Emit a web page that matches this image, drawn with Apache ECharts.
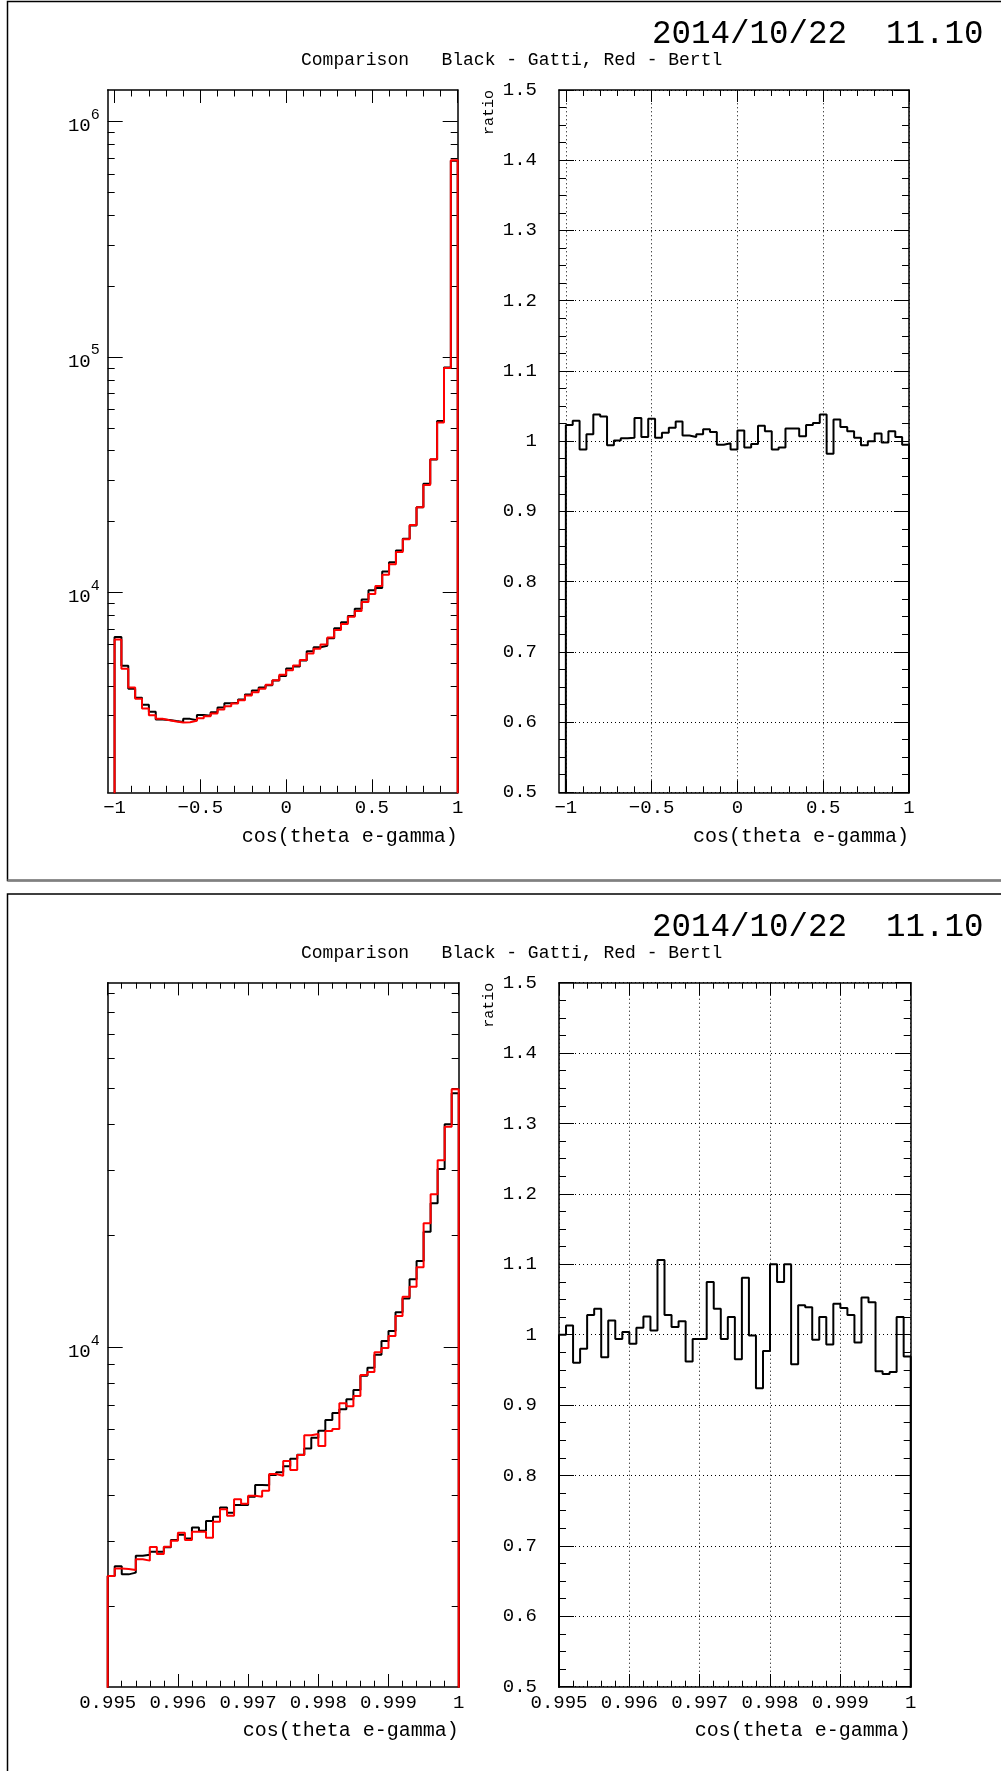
<!DOCTYPE html>
<html><head><meta charset="utf-8">
<script src="https://cdn.jsdelivr.net/npm/echarts@6/dist/echarts.min.js"></script>
<style>html,body{margin:0;padding:0;background:#fff}#c{width:1001px;height:1771px}</style>
</head><body><div id="c"></div>
<script>
// ---------------- data ----------------
const dateText = '2014/10/22  11.10';
const titleText = 'Comparison   Black - Gatti, Red - Bertl';
const xTitle = 'cos(theta e-gamma)';
const ratioTitle = 'ratio';

// full-range histograms (bin edges, 51 bins, first bin empty)
const topBinEdges = [-1.04,-1.00,-0.96,-0.92,-0.88,-0.84,-0.80,-0.76,-0.72,-0.68,-0.64,-0.60,-0.56,-0.52,-0.48,-0.44,-0.40,-0.36,-0.32,-0.28,-0.24,-0.20,-0.16,-0.12,-0.08,-0.04,0.00,0.04,0.08,0.12,0.16,0.20,0.24,0.28,0.32,0.36,0.40,0.44,0.48,0.52,0.56,0.60,0.64,0.68,0.72,0.76,0.80,0.84,0.88,0.92,0.96,1.00];
const topGatti = [0,6453,4869,3894,3562,3330,3111,2883,2865,2836,2811,2899,2860,3011,2991,3092,3237,3374,3396,3502,3680,3829,3941,4026,4222,4407,4740,4845,5131,5621,5837,5934,6375,7036,7464,7931,8516,9329,10209,10444,12254,13415,15049,16886,19222,22992,28932,36726,53438,90339,683167];
const topBertl = [0,6308,4732,3941,3527,3208,3006,2900,2862,2825,2797,2806,2843,2918,2976,3055,3177,3282,3369,3481,3644,3765,3890,4046,4235,4461,4670,4889,5152,5500,5756,6006,6433,6912,7332,7876,8325,9093,9835,10636,11886,13152,14841,16802,19338,22992,28617,36800,52700,89800,686600];
const topRatio = [0,1.023,1.029,0.988,1.010,1.038,1.035,0.994,1.001,1.004,1.005,1.033,1.006,1.032,1.005,1.012,1.019,1.028,1.008,1.006,1.010,1.017,1.013,0.995,0.997,0.988,1.015,0.991,0.996,1.022,1.014,0.988,0.991,1.018,1.018,1.007,1.023,1.026,1.038,0.982,1.031,1.020,1.014,1.005,0.994,1.000,1.011,0.998,1.014,1.006,0.995];

// zoomed histograms (50 bins)
const botBinEdges = [0.9950,0.9951,0.9952,0.9953,0.9954,0.9955,0.9956,0.9957,0.9958,0.9959,0.9960,0.9961,0.9962,0.9963,0.9964,0.9965,0.9966,0.9967,0.9968,0.9969,0.9970,0.9971,0.9972,0.9973,0.9974,0.9975,0.9976,0.9977,0.9978,0.9979,0.9980,0.9981,0.9982,0.9983,0.9984,0.9985,0.9986,0.9987,0.9988,0.9989,0.9990,0.9991,0.9992,0.9993,0.9994,0.9995,0.9996,0.9997,0.9998,0.9999,1.0000];
const botGatti = [2419,2569,2444,2470,2744,2759,2812,2812,2890,3024,3124,3054,3271,3204,3402,3495,3699,3583,3759,3759,3958,4254,4246,4528,4603,4778,5010,5135,5341,5708,5962,6368,6651,6804,7241,7672,8385,8813,9553,10400,11063,12427,13540,15250,17087,20490,24440,30240,39910,48370];
const botBertl = [2419,2536,2526,2511,2683,2661,2896,2773,2902,3012,3165,3024,3184,3184,3069,3388,3659,3518,3893,3790,3982,3957,4108,4555,4508,4937,4670,5124,5792,5840,5420,5950,6025,7063,6933,7391,8423,8579,9692,9960,10727,12144,13692,14570,16432,21590,25850,31920,39320,49590];
const botRatio = [1.000,1.013,0.960,0.980,1.028,1.037,0.968,1.020,0.994,1.004,0.987,1.010,1.026,1.006,1.106,1.028,1.011,1.019,0.962,0.994,0.994,1.075,1.037,0.994,1.025,0.965,1.081,0.999,0.924,0.977,1.100,1.075,1.100,0.958,1.042,1.039,0.993,1.025,0.986,1.044,1.038,1.028,0.989,1.053,1.046,0.948,0.944,0.947,1.025,0.969];

// axis ranges and ticks
const topXRange = [-1.04, 1.0];
const botXRange = [0.995, 1.0];
const ratioRange = [0.5, 1.5];
const topLogRange = [1413, 1364000];
const botLogRange = [1217, 96100];
const topXMajor = [-1, -0.5, 0, 0.5, 1];
const topXMinor = [-0.9,-0.8,-0.7,-0.6,-0.4,-0.3,-0.2,-0.1,0.1,0.2,0.3,0.4,0.6,0.7,0.8,0.9];
const logMajorTop = [10000, 100000, 1000000];
const logMinorTop = [2000,3000,4000,5000,6000,7000,8000,9000,20000,30000,40000,50000,60000,70000,80000,90000,200000,300000,400000,500000,600000,700000,800000,900000];
const logMajorBot = [10000];
const logMinorBot = [2000,3000,4000,5000,6000,7000,8000,9000,20000,30000,40000,50000,60000,70000,80000,90000];

// ---------------- chart ----------------
const F = 'Liberation Mono';
const K = '#000';
const RED = '#ff0000';
const tickLS = {color: K, width: 1};
const dotLS = {color: K, width: 1, type: [1, 3]};
const frameLine = (show) => ({show: show, onZero: false, lineStyle: {color: K, width: 1.5}});
const off = {show: false};

function customAxis(g, pos, type, range, ticks, len, line, label) {
  return {
    gridIndex: g, type: type, position: pos, min: range[0], max: range[1],
    axisLine: frameLine(line),
    axisTick: {show: true, inside: true, length: len, customValues: ticks, lineStyle: tickLS},
    axisLabel: label || off, splitLine: off, minorTick: off, minorSplitLine: off
  };
}
function intervalAxis(g, pos, range, interval, len, minorN, minorLen, label, split) {
  return {
    gridIndex: g, type: 'value', position: pos, min: range[0], max: range[1], interval: interval,
    axisLine: frameLine(true),
    axisTick: {show: true, inside: true, length: len, lineStyle: tickLS},
    minorTick: {show: true, splitNumber: minorN, length: minorLen, lineStyle: tickLS},
    axisLabel: label || off,
    splitLine: split ? {show: true, lineStyle: dotLS} : off,
    minorSplitLine: off
  };
}
const lblBase = {show: true, fontFamily: F, fontSize: 19, color: K, showMinLabel: true, showMaxLabel: true};
const signed = v => (v < 0 ? '\u2212' + (-v) : String(v));
const xName = {
  name: xTitle, nameLocation: 'end', nameGap: 0,
  nameTextStyle: {fontFamily: F, fontSize: 20, color: K, align: 'right', verticalAlign: 'top', padding: [34, 0, 0, 0]}
};
const yName = {
  name: ratioTitle, nameLocation: 'end', nameGap: 0, nameRotate: 90,
  nameTextStyle: {fontFamily: F, fontSize: 15, color: K, align: 'right', verticalAlign: 'bottom', padding: [0, 0, 62, 0]}
};
const logLabel = (vals) => Object.assign({}, lblBase, {
  customValues: vals, margin: 8,
  formatter: v => '{s| }{a|10}{b|' + Math.round(Math.log10(v)) + '}',
  rich: {
    s: {fontFamily: F, fontSize: 1, lineHeight: 28, verticalAlign: 'middle'},
    a: {fontFamily: F, fontSize: 19, lineHeight: 19, color: K, verticalAlign: 'bottom'},
    b: {fontFamily: F, fontSize: 15, lineHeight: 15, color: K, verticalAlign: 'top'}
  }
});

function histLine(edges, vals, floor) {
  const pts = [[edges[0], floor]];
  vals.forEach((v, i) => pts.push([edges[i], v > floor ? v : floor]));
  pts.push([edges[vals.length], vals[vals.length - 1]]);
  pts.push([edges[vals.length], floor]);
  return pts;
}
function histSeries(xi, yi, edges, vals, floor, color, z, extra) {
  return Object.assign({
    type: 'line', xAxisIndex: xi, yAxisIndex: yi, data: histLine(edges, vals, floor),
    step: 'end', showSymbol: false, symbol: 'none', clip: true, silent: true, animation: false,
    lineStyle: {color: color, width: 2}, itemStyle: {color: color}, z: z
  }, extra || {});
}

const G = [
  {left: 107.7, top: 90, width: 350, height: 702.3},
  {left: 559, top: 90, width: 350, height: 702.3},
  {left: 107.7, top: 982.7, width: 351, height: 704},
  {left: 559, top: 982.7, width: 351.7, height: 704}
].map(g => Object.assign({show: false, containLabel: false, outerBoundsMode: 'none'}, g));

const xAxes = [
  // grid 0
  Object.assign(customAxis(0, 'bottom', 'value', topXRange, topXMajor, 13, true,
    Object.assign({}, lblBase, {customValues: topXMajor, formatter: signed, margin: 6})), xName),
  customAxis(0, 'bottom', 'value', topXRange, topXMinor, 6.5, false),
  customAxis(0, 'top', 'value', topXRange, topXMajor, 13, true),
  customAxis(0, 'top', 'value', topXRange, topXMinor, 6.5, false),
  // grid 1
  Object.assign(customAxis(1, 'bottom', 'value', topXRange, topXMajor, 12, true,
    Object.assign({}, lblBase, {customValues: topXMajor, formatter: signed, margin: 6})), xName),
  customAxis(1, 'bottom', 'value', topXRange, topXMinor, 6, false),
  customAxis(1, 'top', 'value', topXRange, topXMajor, 12, true),
  customAxis(1, 'top', 'value', topXRange, topXMinor, 6, false),
  // grid 2
  Object.assign(intervalAxis(2, 'bottom', botXRange, 0.001, 12.7, 5, 6,
    Object.assign({}, lblBase, {margin: 7, formatter: v => String(+v.toFixed(3))})), xName),
  intervalAxis(2, 'top', botXRange, 0.001, 12.7, 5, 6),
  // grid 3
  Object.assign(intervalAxis(3, 'bottom', botXRange, 0.001, 12.7, 5, 6,
    Object.assign({}, lblBase, {margin: 7, formatter: v => String(+v.toFixed(3))}), true), xName),
  intervalAxis(3, 'top', botXRange, 0.001, 12.7, 5, 6)
];

const yAxes = [
  // grid 0 (log)
  customAxis(0, 'left', 'log', topLogRange, logMajorTop, 15, true, logLabel(logMajorTop)),
  customAxis(0, 'left', 'log', topLogRange, logMinorTop, 7, false),
  customAxis(0, 'right', 'log', topLogRange, logMajorTop, 15, true),
  customAxis(0, 'right', 'log', topLogRange, logMinorTop, 7, false),
  // grid 1 (ratio)
  Object.assign(intervalAxis(1, 'left', ratioRange, 0.1, 15, 4, 7,
    Object.assign({}, lblBase, {margin: 22}), true), yName),
  intervalAxis(1, 'right', ratioRange, 0.1, 15, 4, 7),
  // grid 2 (log)
  customAxis(2, 'left', 'log', botLogRange, logMajorBot, 15, true, logLabel(logMajorBot)),
  customAxis(2, 'left', 'log', botLogRange, logMinorBot, 7, false),
  customAxis(2, 'right', 'log', botLogRange, logMajorBot, 15, true),
  customAxis(2, 'right', 'log', botLogRange, logMinorBot, 7, false),
  // grid 3 (ratio)
  Object.assign(intervalAxis(3, 'left', ratioRange, 0.1, 15, 4, 7,
    Object.assign({}, lblBase, {margin: 22}), true), yName),
  intervalAxis(3, 'right', ratioRange, 0.1, 15, 4, 7)
];

const series = [
  histSeries(0, 0, topBinEdges, topGatti, 1, K, 3),
  histSeries(0, 0, topBinEdges, topBertl, 1, RED, 4),
  histSeries(4, 4, topBinEdges, topRatio, 0, K, 3, {
    markLine: {silent: true, symbol: ['none', 'none'], label: off, animation: false,
      lineStyle: dotLS, data: topXMajor.map(v => ({xAxis: v}))}
  }),
  histSeries(8, 6, botBinEdges, botGatti, 1, K, 3),
  histSeries(8, 6, botBinEdges, botBertl, 1, RED, 4),
  histSeries(10, 10, botBinEdges, botRatio, 0, K, 3)
];

const PANEL2 = 892.5;
const titleStyle = (fs) => ({fontFamily: F, fontSize: fs, fontWeight: 'normal', color: K});
const titles = [];
[0, PANEL2].forEach(dy => {
  titles.push({text: dateText, left: 652, top: 18 + dy, padding: 0, textStyle: titleStyle(32.5)});
  titles.push({text: titleText, left: 301, top: 51.5 + dy, padding: 0, textStyle: titleStyle(18)});
});

const chart = echarts.init(document.getElementById('c'), null, {renderer: 'canvas'});
chart.setOption({
  backgroundColor: '#fff',
  animation: false,
  title: titles,
  grid: G,
  xAxis: xAxes,
  yAxis: yAxes,
  series: series,
  graphic: [
    {type: 'rect', silent: true, shape: {x: 7.5, y: 1.5, width: 1100, height: 879}, style: {fill: 'none', stroke: K, lineWidth: 1.5}},
    {type: 'line', silent: true, shape: {x1: 7.5, y1: 880.5, x2: 1001, y2: 880.5}, style: {stroke: '#808080', lineWidth: 2.5}},
    {type: 'rect', silent: true, shape: {x: 7.5, y: 894, width: 1100, height: 1000}, style: {fill: 'none', stroke: K, lineWidth: 1.5}}
  ]
});
</script></body></html>
